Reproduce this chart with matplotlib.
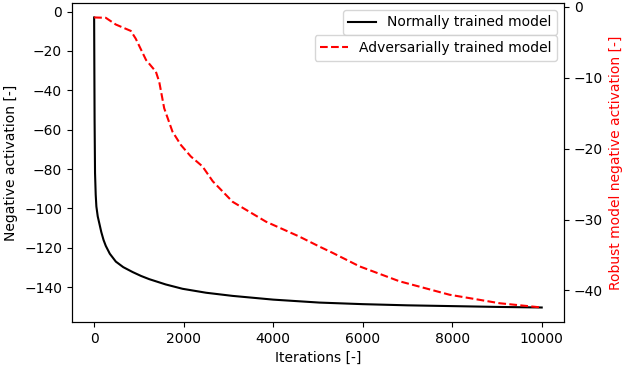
import matplotlib
matplotlib.use('Agg')
import matplotlib.pyplot as plt
from matplotlib.ticker import MultipleLocator

# normally trained model (left axis)
normal_iter = [0, 5, 10, 20, 35, 50, 80, 110, 160, 210, 260, 350, 485, 650, 860, 1050,
               1230, 1600, 1975, 2500, 3090, 4000, 5030, 6000, 7000, 8000, 9000, 10000]
normal_act = [-3, -30, -55, -82, -93, -99, -104, -107, -112, -116, -119, -123, -127, -129.8, -132.3, -134.3,
              -135.9, -138.6, -140.8, -142.8, -144.4, -146.3, -147.8, -148.6, -149.2, -149.6, -150.0, -150.3]

# adversarially trained model (right axis)
robust_iter = [0, 260, 485, 820, 930, 1160, 1380, 1455, 1565, 1750, 1940, 2160, 2420, 2650,
               3095, 3840, 4585, 5030, 5330, 5930, 6820, 7940, 9060, 10000]
robust_act = [-1.5, -1.55, -2.5, -3.4, -4.5, -7.5, -9.15, -10.6, -14.3, -17.6, -19.5, -21.1, -22.5, -24.6,
              -27.5, -30.3, -32.4, -33.8, -34.7, -36.6, -38.7, -40.6, -41.8, -42.4]

fig, ax1 = plt.subplots(figsize=(6.24, 3.68), dpi=100)
fig.subplots_adjust(left=0.115, right=0.904, top=0.992, bottom=0.125)

ax1.plot(normal_iter, normal_act, 'k-', linewidth=1.5, label='Normally trained model')
ax1.set_xlabel('Iterations [-]')
ax1.set_ylabel('Negative activation [-]')
ax1.legend(loc='upper right')

ax2 = ax1.twinx()
ax2.plot(robust_iter, robust_act, 'r--', linewidth=1.5, label='Adversarially trained model')
ax2.set_ylabel('Robust model negative activation [-]', color='r')
ax2.yaxis.set_major_locator(MultipleLocator(10))
ax2.legend(loc='upper right', bbox_to_anchor=(1, 0.92))

fig.savefig('out.png', dpi=100)
